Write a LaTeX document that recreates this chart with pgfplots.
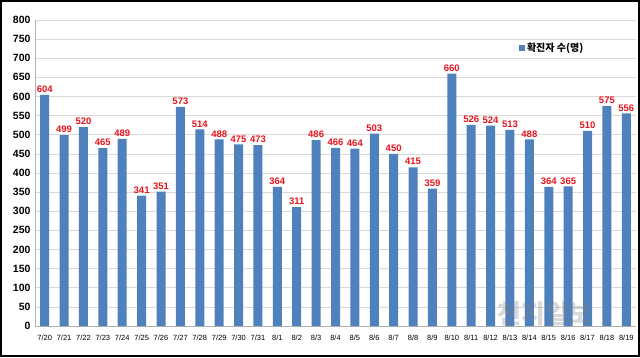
\documentclass[border=0pt]{standalone}
\usepackage{pgfplots}
\pgfplotsset{compat=1.18}
\usepackage{fontspec}
\setmainfont{Liberation Sans}
\newfontfamily\kr{Noto Sans CJK KR}
\definecolor{barblue}{HTML}{4F81BD}
\definecolor{lblred}{HTML}{E8141E}
\begin{document}
\begin{tikzpicture}
\useasboundingbox (0,0) rectangle (640pt,357pt);
\draw[line width=1.6pt] (1.2pt,1.2pt) rectangle (638.8pt,355.8pt);
\begin{axis}[
  at={(35pt,31pt)}, anchor=south west,
  scale only axis, width=601pt, height=306pt,
  xmin=-0.5, xmax=30.5, ymin=0, ymax=800,
  ytick={0,50,...,800},
  xtick={0,...,30},
  xticklabels={7/20,7/21,7/22,7/23,7/24,7/25,7/26,7/27,7/28,7/29,7/30,7/31,8/1,8/2,8/3,8/4,8/5,8/6,8/7,8/8,8/9,8/10,8/11,8/12,8/13,8/14,8/15,8/16,8/17,8/18,8/19},
  x tick label style={font=\fontsize{7.5}{8}\selectfont, yshift=-6pt},
  y tick label style={font=\fontsize{10.5}{12}\selectfont\bfseries, xshift=-1pt},
  /pgf/number format/assume math mode=true,
  ymajorgrids, grid style={gray!30, line width=0.6pt},
  axis x line*=bottom, axis y line*=left,
  x axis line style={gray!60}, y axis line style={gray!60},
  every tick/.style={gray!60},
  major tick length=3pt,
  ytick style={draw=none},
  extra x ticks={-0.5,0.5,...,30.5}, extra x tick labels={},
  extra x tick style={grid=none, tick style={gray!60}, major tick length=4pt, tick align=outside},
  xtick style={draw=none},
  legend style={draw=none, fill=none, at={(0.80,0.91)}, anchor=west, font=\kr\fontsize{10}{12}\selectfont\bfseries},
  legend image code/.code={\fill[barblue] (0pt,-3pt) rectangle (6pt,3pt);},
  nodes near coords,
  every node near coord/.append style={font=\fontsize{9.5}{11}\selectfont\bfseries, text=lblred, inner sep=2pt},
]
\addplot[ybar, bar width=9pt, fill=barblue, draw=none] coordinates {
(0,604)(1,499)(2,520)(3,465)(4,489)(5,341)(6,351)(7,573)(8,514)(9,488)(10,475)(11,473)
(12,364)(13,311)(14,486)(15,466)(16,464)(17,503)(18,450)(19,415)(20,359)(21,660)
(22,526)(23,524)(24,513)(25,488)(26,364)(27,365)(28,510)(29,575)(30,556)};
\addlegendentry{확진자 수(명)}
\end{axis}
\node[text=gray, opacity=0.3, font=\kr\bfseries\fontsize{26}{28}\selectfont, anchor=center, inner sep=0pt] at (545pt,43pt) {천지일보};
\end{tikzpicture}
\end{document}
